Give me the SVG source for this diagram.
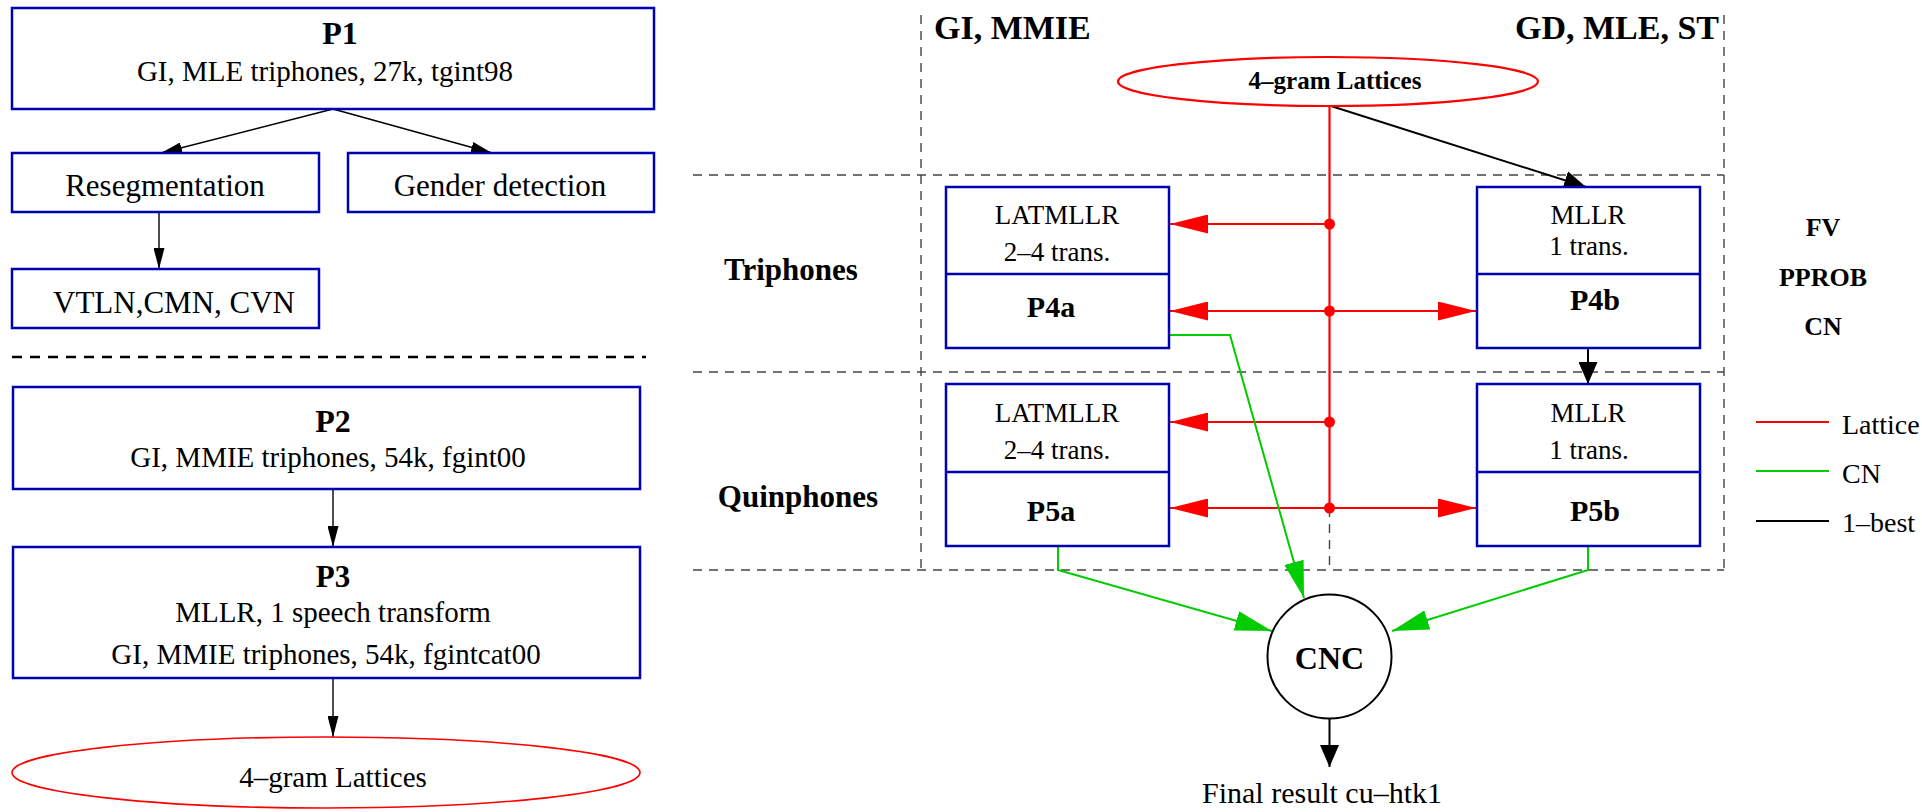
<svg xmlns="http://www.w3.org/2000/svg" width="1922" height="812" viewBox="0 0 1922 812">
<style>
text{font-family:"Liberation Serif","Times New Roman",serif;fill:#000}
.b{font-weight:bold}
.box{fill:#fff;stroke:#0000b4;stroke-width:2.5}
.t29{font-size:29px}
.t31{font-size:31px}
.t27{font-size:27px}
.grid{stroke:#444;stroke-width:1.4;stroke-dasharray:9 7;fill:none}
.red{stroke:#ff0000;stroke-width:2.2;fill:none}
.green{stroke:#00cc00;stroke-width:2;fill:none}
.blk{stroke:#000;stroke-width:2;fill:none}
.blkt{stroke:#000;stroke-width:1.4;fill:none}
</style>
<defs>
<marker id="aS" markerUnits="userSpaceOnUse" markerWidth="21" markerHeight="11" refX="21" refY="5.5" orient="auto"><path d="M0,0 L21,5.5 L0,11 z" fill="#000"/></marker>
<marker id="aB" markerUnits="userSpaceOnUse" markerWidth="22" markerHeight="19" refX="22" refY="9.5" orient="auto"><path d="M0,0 L22,9.5 L0,19 z" fill="#000"/></marker>
<marker id="aR" markerUnits="userSpaceOnUse" markerWidth="38" markerHeight="19" refX="38" refY="9.5" orient="auto-start-reverse"><path d="M0,0 L38,9.5 L0,19 z" fill="#ff0000"/></marker>
<marker id="aG" markerUnits="userSpaceOnUse" markerWidth="37" markerHeight="20" refX="37" refY="10" orient="auto"><path d="M0,0 L37,10 L0,20 z" fill="#00cc00"/></marker>
</defs>

<!-- grid / separators -->
<g id="separators">
<line x1="12" y1="357" x2="646" y2="357" stroke="#000" stroke-width="2.5" stroke-dasharray="10 8"/>
<line class="grid" x1="921" y1="15" x2="921" y2="570"/>
<line class="grid" x1="1724" y1="15" x2="1724" y2="570"/>
<line class="grid" x1="693" y1="175" x2="1724" y2="175"/>
<line class="grid" x1="693" y1="372" x2="1724" y2="372"/>
<line class="grid" x1="693" y1="570" x2="1724" y2="570"/>
<line class="grid" x1="1329.5" y1="508" x2="1329.5" y2="570"/>
</g>

<!-- connectors -->
<g id="connectors">
<line class="blkt" x1="333" y1="109" x2="161" y2="153" marker-end="url(#aS)"/>
<line class="blkt" x1="333" y1="109" x2="492" y2="153" marker-end="url(#aS)"/>
<line class="blkt" x1="159" y1="212" x2="159" y2="269" marker-end="url(#aS)"/>
<line class="blkt" x1="333" y1="489" x2="333" y2="547" marker-end="url(#aS)"/>
<line class="blkt" x1="333" y1="678" x2="333" y2="737" marker-end="url(#aS)"/>

<line class="red" x1="1329.5" y1="106" x2="1329.5" y2="508"/>
<line class="red" x1="1329.5" y1="224" x2="1170" y2="224" marker-end="url(#aR)"/>
<line class="red" x1="1170" y1="311" x2="1476" y2="311" marker-start="url(#aR)" marker-end="url(#aR)"/>
<line class="red" x1="1329.5" y1="422" x2="1170" y2="422" marker-end="url(#aR)"/>
<line class="red" x1="1170" y1="508" x2="1476" y2="508" marker-start="url(#aR)" marker-end="url(#aR)"/>
<circle cx="1329.5" cy="224" r="5.5" fill="#ff0000"/>
<circle cx="1329.5" cy="311" r="5.5" fill="#ff0000"/>
<circle cx="1329.5" cy="422" r="5.5" fill="#ff0000"/>
<circle cx="1329.5" cy="508" r="5.5" fill="#ff0000"/>

<line class="blk" x1="1331" y1="106" x2="1586" y2="187" marker-end="url(#aB)"/>
<line class="blk" x1="1588" y1="348" x2="1588" y2="384" marker-end="url(#aB)"/>
<line class="blk" x1="1329.5" y1="718" x2="1329.5" y2="767" marker-end="url(#aB)"/>

<polyline class="green" points="1169,335 1230,335 1304,598" marker-end="url(#aG)"/>
<polyline class="green" points="1058,546 1058,570 1272,631" marker-end="url(#aG)"/>
<polyline class="green" points="1588,546 1588,570 1392,631" marker-end="url(#aG)"/>
</g>

<!-- left column nodes -->
<g id="P1">
<rect class="box" x="12" y="8" width="642" height="101"/>
<text class="b" x="340" y="44" font-size="32" text-anchor="middle">P1</text>
<text class="t29" x="325" y="81" text-anchor="middle">GI, MLE triphones, 27k, tgint98</text>
</g>
<g id="resegmentation">
<rect class="box" x="12" y="153" width="307" height="59"/>
<text class="t31" x="165" y="196" text-anchor="middle">Resegmentation</text>
</g>
<g id="gender">
<rect class="box" x="348" y="153" width="306" height="59"/>
<text class="t31" x="500" y="196" text-anchor="middle">Gender detection</text>
</g>
<g id="vtln">
<rect class="box" x="12" y="269" width="307" height="59"/>
<text class="t31" x="174" y="313" text-anchor="middle">VTLN,CMN, CVN</text>
</g>
<g id="P2">
<rect class="box" x="13" y="387" width="627" height="102"/>
<text class="b" x="333" y="432" font-size="32" text-anchor="middle">P2</text>
<text class="t29" x="328" y="467" text-anchor="middle">GI, MMIE triphones, 54k, fgint00</text>
</g>
<g id="P3">
<rect class="box" x="13" y="547" width="627" height="131"/>
<text class="b" x="333" y="587" font-size="31" text-anchor="middle">P3</text>
<text class="t29" x="333" y="622" text-anchor="middle">MLLR, 1 speech transform</text>
<text class="t29" x="326" y="664" text-anchor="middle">GI, MMIE triphones, 54k, fgintcat00</text>
</g>
<g id="lattices-left">
<ellipse cx="326" cy="772.5" rx="314" ry="35.5" fill="none" stroke="#ff0000" stroke-width="1.6"/>
<text class="t29" x="333" y="787" text-anchor="middle">4–gram Lattices</text>
</g>

<!-- right column -->
<g id="headers">
<text class="b" x="934" y="39" font-size="34">GI, MMIE</text>
<text class="b" x="1719" y="39" font-size="34" text-anchor="end">GD, MLE, ST</text>
<text class="b" x="791" y="280" font-size="31" text-anchor="middle">Triphones</text>
<text class="b" x="798" y="507" font-size="31" text-anchor="middle">Quinphones</text>
<text class="b" x="1823" y="236" font-size="26" text-anchor="middle">FV</text>
<text class="b" x="1823" y="286" font-size="26" text-anchor="middle">PPROB</text>
<text class="b" x="1823" y="335" font-size="26" text-anchor="middle">CN</text>
</g>
<g id="lattices-top">
<ellipse cx="1328" cy="81.5" rx="210" ry="24.5" fill="#fff" stroke="#ff0000" stroke-width="2.2"/>
<text class="b" x="1335" y="89" font-size="25" text-anchor="middle">4–gram Lattices</text>
</g>
<g id="P4a">
<rect class="box" x="946" y="187" width="223" height="161"/>
<line x1="946" y1="274" x2="1169" y2="274" stroke="#0000b4" stroke-width="2.5"/>
<text class="t27" x="1057" y="224" text-anchor="middle">LATMLLR</text>
<text class="t27" x="1057" y="261" text-anchor="middle">2–4 trans.</text>
<text class="b" x="1051" y="317" font-size="30" text-anchor="middle">P4a</text>
</g>
<g id="P4b">
<rect class="box" x="1477" y="187" width="223" height="161"/>
<line x1="1477" y1="274" x2="1700" y2="274" stroke="#0000b4" stroke-width="2.5"/>
<text class="t27" x="1588" y="224" text-anchor="middle">MLLR</text>
<text class="t27" x="1589" y="255" text-anchor="middle">1 trans.</text>
<text class="b" x="1595" y="310" font-size="30" text-anchor="middle">P4b</text>
</g>
<g id="P5a">
<rect class="box" x="946" y="384" width="223" height="162"/>
<line x1="946" y1="472" x2="1169" y2="472" stroke="#0000b4" stroke-width="2.5"/>
<text class="t27" x="1057" y="422" text-anchor="middle">LATMLLR</text>
<text class="t27" x="1057" y="459" text-anchor="middle">2–4 trans.</text>
<text class="b" x="1051" y="521" font-size="30" text-anchor="middle">P5a</text>
</g>
<g id="P5b">
<rect class="box" x="1477" y="384" width="223" height="162"/>
<line x1="1477" y1="472" x2="1700" y2="472" stroke="#0000b4" stroke-width="2.5"/>
<text class="t27" x="1588" y="422" text-anchor="middle">MLLR</text>
<text class="t27" x="1589" y="459" text-anchor="middle">1 trans.</text>
<text class="b" x="1595" y="521" font-size="30" text-anchor="middle">P5b</text>
</g>
<g id="CNC">
<circle cx="1329.5" cy="656.5" r="62" fill="#fff" stroke="#000" stroke-width="2"/>
<text class="b" x="1329.5" y="669" font-size="32" text-anchor="middle">CNC</text>
</g>
<g id="final">
<text x="1322" y="803" font-size="30" text-anchor="middle">Final result cu–htk1</text>
</g>
<g id="legend">
<line x1="1756" y1="422" x2="1829" y2="422" stroke="#ff0000" stroke-width="2"/>
<text x="1842" y="434" font-size="28">Lattice</text>
<line x1="1756" y1="471" x2="1829" y2="471" stroke="#00cc00" stroke-width="2"/>
<text x="1842" y="483" font-size="28">CN</text>
<line x1="1756" y1="521" x2="1829" y2="521" stroke="#000" stroke-width="2"/>
<text x="1842" y="532" font-size="28">1–best</text>
</g>
</svg>
